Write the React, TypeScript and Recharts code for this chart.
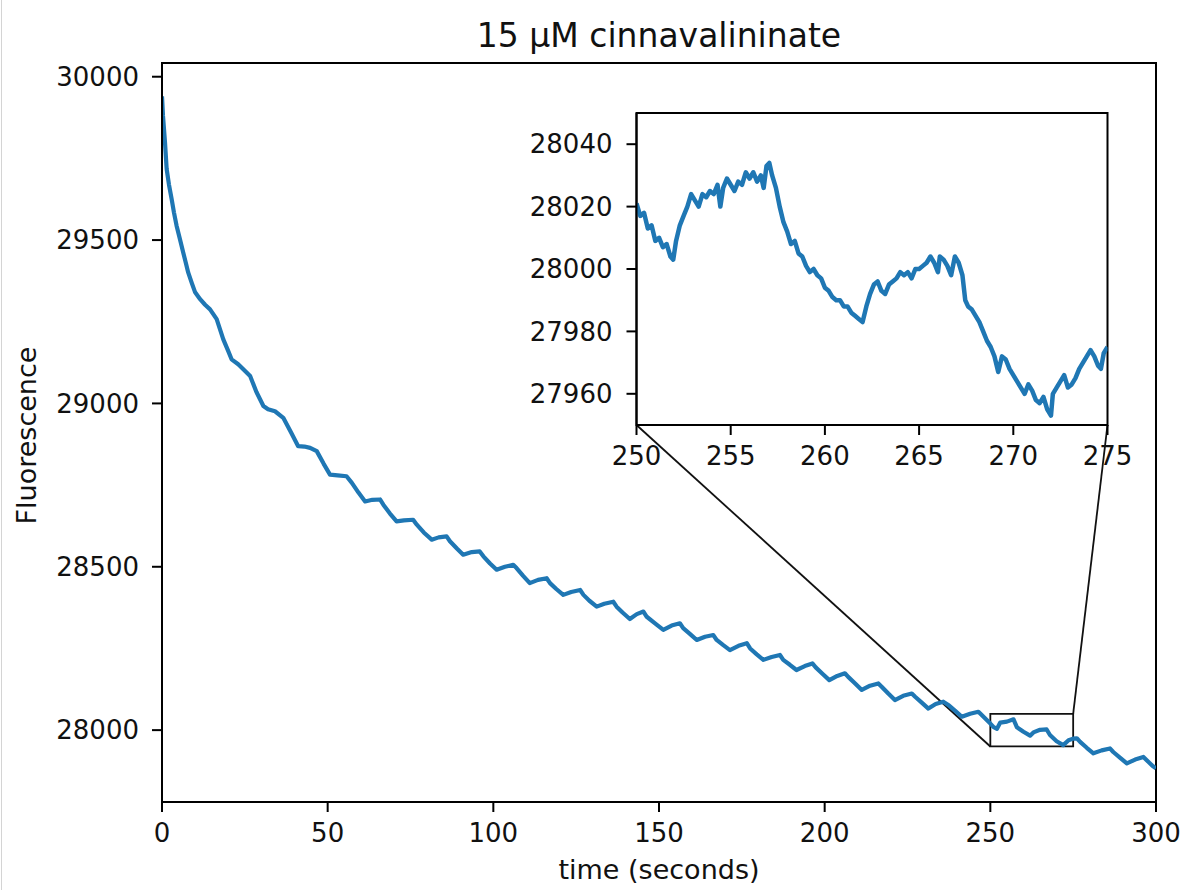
import React from 'react';
import { LineChart, Line, XAxis, YAxis, ReferenceArea, ReferenceLine } from 'recharts';

// ---------- data ----------
const mainTime = [
  0, 0.3, 0.9, 1.4, 2.1, 2.9, 3.6, 4.4, 5.4, 6.4,
  7.2, 7.9, 9.0, 10.0, 11.5, 13.0, 14.5, 16.5, 18.5, 20.0,
  21.0, 23.0, 25.0, 26.6, 28.5, 30.6, 32.0, 34.1, 36.6, 39.0,
  41.1, 43.0, 44.7, 46.7, 48.8, 50.7, 53.0, 55.7, 57.3, 59.3,
  61.3, 63.5, 65.8, 66.8, 68.8, 70.8, 73.0, 75.8, 76.9, 79.0,
  81.4, 83.5, 85.9, 86.9, 89.0, 90.9, 93.5, 95.9, 97.0, 99.0,
  101.0, 103.5, 106.0, 107.0, 109.0, 111.0, 113.5, 116.1, 117.1, 119.0,
  121.1, 123.5, 126.2, 127.2, 129.0, 131.2, 133.5, 136.2, 137.2, 139.0,
  141.2, 143.3, 145.3, 146.3, 148.8, 151.3, 153.8, 156.3, 157.3, 159.4,
  161.4, 163.9, 166.4, 167.4, 169.4, 171.4, 174.0, 176.5, 177.5, 179.5,
  181.5, 184.0, 186.5, 187.5, 189.5, 191.5, 194.0, 196.3, 197.3, 199.4,
  201.4, 203.8, 206.1, 207.1, 209.2, 211.2, 213.7, 216.2, 217.2, 219.2,
  221.2, 223.7, 226.3, 227.3, 229.3, 231.3, 233.5, 235.8, 237.3, 239.4,
  241.4, 243.9, 246.4, 247.4, 249.0, 250.0, 251.0, 252.0, 253.0, 255.0,
  257.0, 258.0, 260.0, 262.0, 263.0, 265.0, 267.0, 268.0, 270.0, 272.0,
  273.6, 275.0, 276.1, 277.1, 279.1, 281.1, 283.6, 286.1, 287.1, 289.2,
  291.2, 293.7, 296.2, 297.2, 299.0, 300.0,
];
const mainFluor = [
  29940, 29880, 29800, 29718, 29670, 29626, 29585, 29544, 29503, 29462,
  29430, 29401, 29368, 29340, 29319, 29302, 29288, 29258, 29196, 29160,
  29135, 29120, 29100, 29084, 29035, 28992, 28982, 28976, 28956, 28910,
  28869, 28868, 28864, 28854, 28815, 28782, 28780, 28777, 28757, 28727,
  28700, 28705, 28706, 28690, 28663, 28639, 28642, 28644, 28629, 28605,
  28583, 28590, 28593, 28578, 28556, 28537, 28545, 28547, 28532, 28510,
  28491, 28500, 28506, 28496, 28472, 28450, 28460, 28465, 28450, 28432,
  28414, 28423, 28429, 28414, 28396, 28378, 28387, 28393, 28378, 28360,
  28340, 28355, 28363, 28347, 28327, 28307, 28320, 28327, 28312, 28294,
  28276, 28286, 28291, 28276, 28260, 28245, 28258, 28266, 28250, 28232,
  28215, 28224, 28230, 28215, 28200, 28184, 28196, 28204, 28192, 28172,
  28153, 28166, 28174, 28163, 28143, 28123, 28136, 28143, 28133, 28112,
  28092, 28105, 28112, 28102, 28084, 28066, 28080, 28087, 28077, 28059,
  28041, 28050, 28056, 28046, 28030, 28020, 28009, 28004, 28023, 28026,
  28033, 28009, 27995, 27983, 27993, 28001, 28002, 27985, 27966, 27954,
  27969, 27974, 27975, 27964, 27946, 27929, 27938, 27944, 27933, 27915,
  27898, 27910, 27918, 27908, 27890, 27883,
];

const insetTime = [
  250.0, 250.2, 250.4, 250.6, 250.8, 251.0, 251.2, 251.4, 251.6, 251.8,
  251.95, 252.1, 252.3, 252.5, 252.7, 252.9, 253.1, 253.3, 253.5, 253.7,
  253.9, 254.1, 254.3, 254.45, 254.6, 254.8, 255.0, 255.2, 255.4, 255.6,
  255.8, 256.0, 256.2, 256.4, 256.6, 256.75, 256.9, 257.05, 257.2, 257.4,
  257.6, 257.8, 258.0, 258.2, 258.4, 258.6, 258.8, 259.0, 259.2, 259.4,
  259.6, 259.8, 260.0, 260.2, 260.4, 260.6, 260.8, 261.0, 261.2, 261.4,
  261.6, 261.8, 262.0, 262.2, 262.4, 262.6, 262.8, 263.0, 263.2, 263.4,
  263.6, 263.8, 264.0, 264.2, 264.4, 264.6, 264.8, 265.0, 265.2, 265.4,
  265.6, 265.8, 266.0, 266.1, 266.3, 266.5, 266.7, 266.9, 267.1, 267.3,
  267.45, 267.6, 267.8, 268.0, 268.2, 268.4, 268.6, 268.8, 269.0, 269.2,
  269.4, 269.6, 269.8, 270.0, 270.2, 270.4, 270.6, 270.8, 271.0, 271.2,
  271.4, 271.6, 271.8, 272.0, 272.1, 272.3, 272.5, 272.7, 272.9, 273.1,
  273.3, 273.5, 273.7, 273.9, 274.1, 274.3, 274.5, 274.65, 274.8, 275.0,
];
const insetFluor = [
  28021, 28017, 28018, 28013, 28014, 28009, 28010, 28007, 28008, 28004,
  28003, 28009, 28014, 28017, 28020, 28024, 28022, 28020, 28024, 28023,
  28025, 28024, 28027, 28020, 28026, 28029, 28027, 28025, 28028, 28027,
  28031, 28029, 28031, 28028, 28030, 28026, 28033, 28034, 28030, 28026,
  28020, 28015, 28012, 28008, 28009, 28005, 28004, 28001, 27999, 28000,
  27998, 27997, 27994, 27993, 27991, 27990, 27990, 27988, 27988, 27986,
  27985, 27984, 27983, 27988, 27992, 27995, 27996, 27993, 27992, 27995,
  27996, 27997, 27999, 27998, 27999, 27997, 28000, 28000, 28001, 28002,
  28004, 28002, 27999, 28004, 28003, 28001, 27998, 28004, 28002, 27998,
  27990, 27988, 27987, 27985, 27983, 27980, 27977, 27975, 27972, 27967,
  27972, 27971, 27968, 27966, 27964, 27962, 27960, 27963, 27961, 27958,
  27957, 27959, 27955, 27953, 27960, 27962, 27964, 27966, 27962, 27963,
  27965, 27968, 27970, 27972, 27974, 27972, 27969, 27968, 27973, 27975,
];

const mainXTicks = [0, 50, 100, 150, 200, 250, 300];
const mainYTicks = [28000, 28500, 29000, 29500, 30000];
const insetXTicks = [250, 255, 260, 265, 270, 275];
const insetYTicks = [27960, 27980, 28000, 28020, 28040];

const mainXDomain: [number, number] = [0, 300];
const mainYDomain: [number, number] = [27780, 30042];
const insetXDomain: [number, number] = [250, 275];
const insetYDomain: [number, number] = [27950, 28050];

const titleText = '15 μM cinnavalininate';
const xLabelText = 'time (seconds)';
const yLabelText = 'Fluorescence';

// ---------- layout ----------
const W = 1183;
const H = 890;
const MAIN = { left: 162, top: 63, width: 994, height: 739 };
const INSET = { left: 636.5, top: 113, width: 471, height: 312 };
const INSET_BOX = { left: 500, top: 100, width: 680, height: 400 };

const FONT = "'DejaVu Sans', Verdana, sans-serif";
const TICK_FS = 26;
const LABEL_FS = 27;
const TITLE_FS = 33;
const LINE_COLOR = '#1f77b4';
const INK = '#111';

const mainData = mainTime.map((t, i) => ({ t, f: mainFluor[i] }));
const insetData = insetTime.map((t, i) => ({ t, f: insetFluor[i] }));

// convert a page pixel into the main chart's data space (used for connector lines)
const pxToMainX = (px: number) =>
  mainXDomain[0] + ((px - MAIN.left) / MAIN.width) * (mainXDomain[1] - mainXDomain[0]);
const pxToMainY = (py: number) =>
  mainYDomain[1] - ((py - MAIN.top) / MAIN.height) * (mainYDomain[1] - mainYDomain[0]);

const insetBottomY = pxToMainY(INSET.top + INSET.height);
const insetLeftX = pxToMainX(INSET.left);
const insetRightX = pxToMainX(INSET.left + INSET.width);

const tickStyle = { fill: INK, fontSize: TICK_FS, fontFamily: FONT };
const axisLineStyle = { stroke: '#000', strokeWidth: 2 };

export default function App() {
  const xAxisH = 40;
  const yAxisW = 70;
  const mainMargin = {
    top: MAIN.top,
    left: MAIN.left - yAxisW,
    right: W - MAIN.left - MAIN.width,
    bottom: H - MAIN.top - MAIN.height - xAxisH,
  };
  const insetLeftInBox = INSET.left - INSET_BOX.left;
  const insetTopInBox = INSET.top - INSET_BOX.top;
  const insetMargin = {
    top: insetTopInBox,
    left: insetLeftInBox - yAxisW,
    right: INSET_BOX.width - insetLeftInBox - INSET.width,
    bottom: INSET_BOX.height - insetTopInBox - INSET.height - xAxisH,
  };

  return (
    <div style={{ position: 'absolute', left: 0, top: 0, width: W, height: H, background: '#fff', overflow: 'hidden' }}>
      <div style={{ position: 'absolute', left: 1, top: 0, width: 1, height: H, background: '#d4d4d4' }} />
      <div style={{ position: 'absolute', left: 0, top: 0 }}>
        <LineChart width={W} height={H} data={mainData} margin={mainMargin}>
          <XAxis
            dataKey="t"
            type="number"
            domain={mainXDomain}
            ticks={mainXTicks}
            allowDataOverflow
            height={xAxisH}
            tickSize={10}
            tickMargin={12}
            tick={tickStyle}
            axisLine={axisLineStyle}
            tickLine={axisLineStyle}
            interval={0}
          />
          <YAxis
            type="number"
            domain={mainYDomain}
            ticks={mainYTicks}
            allowDataOverflow
            width={yAxisW}
            tickSize={10}
            tickMargin={13}
            tick={tickStyle}
            axisLine={axisLineStyle}
            tickLine={axisLineStyle}
            interval={0}
          />
          <ReferenceArea
            x1={mainXDomain[0]}
            x2={mainXDomain[1]}
            y1={mainYDomain[0]}
            y2={mainYDomain[1]}
            fill="none"
            stroke="#000"
            strokeWidth={2}
            ifOverflow="visible"
          />
          <ReferenceArea
            x1={insetXDomain[0]}
            x2={insetXDomain[1]}
            y1={insetYDomain[0]}
            y2={insetYDomain[1]}
            fill="none"
            fillOpacity={0}
            stroke="#111"
            strokeWidth={1.8}
            ifOverflow="visible"
          />
          <ReferenceLine
            segment={[
              { x: insetXDomain[0], y: insetYDomain[0] },
              { x: insetLeftX, y: insetBottomY },
            ]}
            stroke="#111"
            strokeWidth={1.8}
            ifOverflow="visible"
          />
          <ReferenceLine
            segment={[
              { x: insetXDomain[1], y: insetYDomain[1] },
              { x: insetRightX, y: insetBottomY },
            ]}
            stroke="#111"
            strokeWidth={1.8}
            ifOverflow="visible"
          />
          <Line
            type="linear"
            dataKey="f"
            stroke={LINE_COLOR}
            strokeWidth={4.2}
            strokeLinejoin="round"
            dot={false}
            activeDot={false}
            isAnimationActive={false}
          />
        </LineChart>
      </div>

      <div style={{ position: 'absolute', left: INSET_BOX.left, top: INSET_BOX.top }}>
        <LineChart width={INSET_BOX.width} height={INSET_BOX.height} data={insetData} margin={insetMargin}>
          <XAxis
            dataKey="t"
            type="number"
            domain={insetXDomain}
            ticks={insetXTicks}
            allowDataOverflow
            height={xAxisH}
            tickSize={10}
            tickMargin={12}
            tick={tickStyle}
            axisLine={axisLineStyle}
            tickLine={axisLineStyle}
            interval={0}
          />
          <YAxis
            type="number"
            domain={insetYDomain}
            ticks={insetYTicks}
            allowDataOverflow
            width={yAxisW}
            tickSize={10}
            tickMargin={14}
            tick={tickStyle}
            axisLine={axisLineStyle}
            tickLine={axisLineStyle}
            interval={0}
          />
          <ReferenceArea
            x1={insetXDomain[0]}
            x2={insetXDomain[1]}
            y1={insetYDomain[0]}
            y2={insetYDomain[1]}
            fill="none"
            stroke="#000"
            strokeWidth={2}
            ifOverflow="visible"
          />
          <Line
            type="linear"
            dataKey="f"
            stroke={LINE_COLOR}
            strokeWidth={4.5}
            strokeLinejoin="round"
            dot={false}
            activeDot={false}
            isAnimationActive={false}
          />
        </LineChart>
      </div>

      <svg
        width={W}
        height={H}
        style={{ position: 'absolute', left: 0, top: 0, pointerEvents: 'none' }}
      >
        <text
          x={MAIN.left + MAIN.width / 2}
          y={47}
          textAnchor="middle"
          fontFamily={FONT}
          fontSize={TITLE_FS}
          fill={INK}
        >
          {titleText}
        </text>
        <text
          x={MAIN.left + MAIN.width / 2}
          y={879}
          textAnchor="middle"
          fontFamily={FONT}
          fontSize={LABEL_FS}
          fill={INK}
        >
          {xLabelText}
        </text>
        <text
          x={36}
          y={MAIN.top + MAIN.height / 2 + 3}
          textAnchor="middle"
          fontFamily={FONT}
          fontSize={LABEL_FS}
          fill={INK}
          transform={`rotate(-90, 36, ${MAIN.top + MAIN.height / 2 + 3})`}
        >
          {yLabelText}
        </text>
      </svg>
    </div>
  );
}
